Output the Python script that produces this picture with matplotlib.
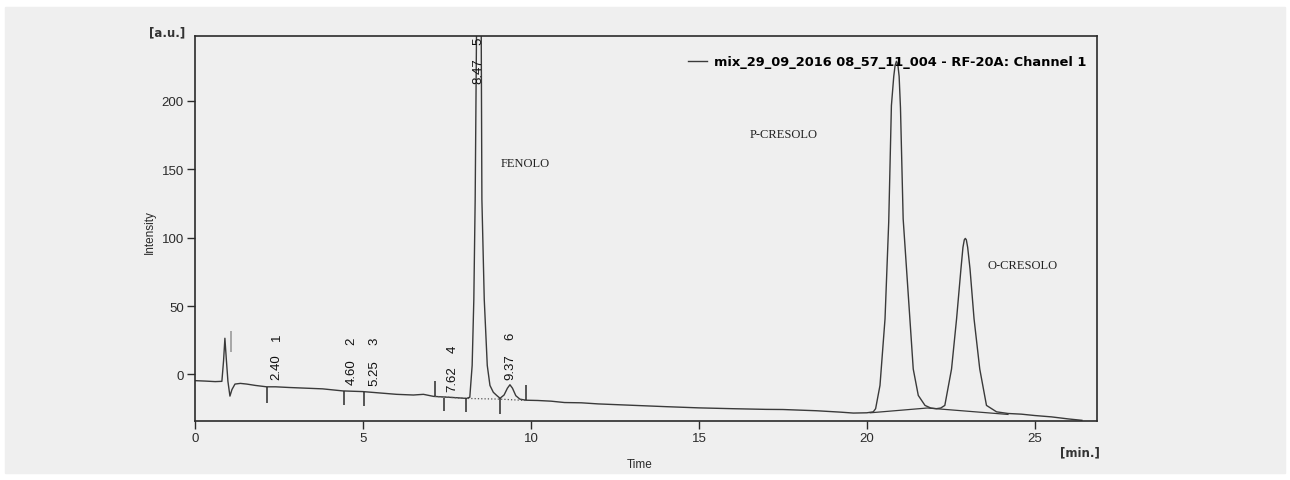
import matplotlib.pyplot as plt
from matplotlib.patches import Rectangle

# chromatogram trace (time in min, intensity in a.u.)
time = [0, 0.3, 0.6, 0.8, 0.85, 0.89, 0.93, 0.98, 1.04, 1.1, 1.19, 1.35, 1.54, 1.8,
        2.13, 2.4, 2.8, 3.3, 3.8, 4.4, 5.0, 5.5, 6.0, 6.5, 6.8, 7.1, 7.45, 7.8, 8.08,
        8.18, 8.25, 8.30, 8.34, 8.38, 8.45, 8.52, 8.54, 8.61, 8.70, 8.78, 8.88, 8.98,
        9.08, 9.2, 9.3, 9.375, 9.45, 9.55, 9.67, 9.85, 10.2, 10.6, 11.0, 11.5, 12, 13,
        14, 15, 16, 17, 17.5, 18.5, 19.2, 19.6, 20.0, 20.19, 20.26, 20.39, 20.54, 20.65,
        20.73, 20.80, 20.84, 20.88, 20.92, 20.96, 21.0, 21.08, 21.28, 21.38, 21.53, 21.73,
        21.9, 22.07, 22.2, 22.32, 22.52, 22.67, 22.80, 22.86, 22.90, 22.93, 22.96, 23.0,
        23.07, 23.19, 23.36, 23.56, 23.86, 24.2, 24.6, 25.0, 25.5, 26.0, 26.4]
intensity = [-4.5, -4.8, -5.2, -5, 10, 26.5, 12, -5, -15.8, -11, -7, -6.5, -7, -8,
             -9, -9, -9.5, -10, -10.5, -12, -12.5, -13.5, -14.5, -15, -14.5, -16, -16.5, -17, -17.5,
             -16.6, 6.6, 55, 128, 250, 430, 250, 128, 55, 6.6, -8, -13, -15.3,
             -17.4, -15, -10, -7.5, -10, -15.5, -18, -18.8, -19, -19.5, -20.5, -20.7, -21.5, -22.5,
             -23.5, -24.4, -25, -25.5, -25.6, -26.5, -27.5, -28.2, -28, -27.3, -25, -8, 40.7, 111.5,
             196.6, 218, 226, 229, 227, 218, 195, 113.8, 40.7, 4, -15.3, -22.6,
             -24.5, -25, -24.5, -22.6, 4, 40.7, 77.2, 93, 98.5, 99.5, 98.5, 93,
             77.2, 40.7, 4, -22.6, -27.3, -28.5, -29, -30, -31, -32.5, -33.5]

# integration marks: (time, from, to)
marks = [(2.13, -9, -21), (4.43, -12, -22), (5.04, -13, -23), (7.14, -16, -4.5),
         (7.42, -17, -27), (8.08, -17.5, -27.5), (9.08, -17.5, -29), (9.85, -19, -8)]

# peak labels: retention time, peak number, position of the text
peak_rt = ["2.40", "4.60", "5.25", "7.62", "8.47", "9.37"]
peak_no = ["1", "2", "3", "4", "5", "6"]
peak_x = [2.43, 4.66, 5.34, 7.66, 8.45, 9.40]
peak_y = [-3, -7, -7.5, -12, 213, -3]
no_y = [28, 25, 25, 19, 244.5, 28.5]

compounds = ["FENOLO", "P-CRESOLO", "O-CRESOLO"]
comp_x = [9.1, 16.5, 23.6]
comp_y = [155, 176, 80]

base_t = [20.1, 21.8, 24.2]
base_y = [-28, -24.5, -29.2]

fig = plt.figure(figsize=(12.9, 4.81), dpi=100, facecolor="white")
fig.patches.append(Rectangle((5 / 1290, 7 / 481), 1280 / 1290, 466 / 481,
                             transform=fig.transFigure, color="#efefef", zorder=-5))
ax = fig.add_axes([195 / 1290, 59 / 481, 902 / 1290, 385 / 481])
ax.set_facecolor("none")

ink = "#2b2b2b"
ax.plot(time, intensity, color="#3a3a3a", lw=1.0,
        label="mix_29_09_2016 08_57_11_004 - RF-20A: Channel 1")
ax.plot(base_t, base_y, color="#3a3a3a", lw=0.9)
ax.plot([7.14, 8.08, 9.08, 9.85], [-16, -17.5, -18, -19], color="#555555", lw=0.9, ls=":")
ax.vlines(1.07, 16.6, 32, color="#9a9a9a", lw=1.2)
for t, a, b in marks:
    ax.vlines(t, a, b, color=ink, lw=1.1)

for x, y, rt in zip(peak_x, peak_y, peak_rt):
    ax.text(x, y, rt, rotation=90, ha="center", va="bottom", fontsize=9.5,
            family="Liberation Sans", color="#111111")
for x, y, n in zip(peak_x, no_y, peak_no):
    ax.text(x, y, n, rotation=90, ha="center", va="center", fontsize=9.5,
            family="Liberation Sans", color="#111111")
for name, x, y in zip(compounds, comp_x, comp_y):
    ax.text(x, y, name, ha="left", va="center", fontsize=9,
            family="Liberation Serif", color="#222222")

ax.set_xlim(0, 26.85)
ax.set_ylim(-34, 247.5)
ax.set_xticks([0, 5, 10, 15, 20, 25])
ax.set_yticks([0, 50, 100, 150, 200])
ax.tick_params(colors=ink, labelsize=9.5, length=6, width=1, pad=2)
for lab in ax.get_xticklabels() + ax.get_yticklabels():
    lab.set_family("Liberation Sans")
for s in ax.spines.values():
    s.set_color(ink)
    s.set_linewidth(1.2)

ax.text(-0.011, 1.01, "[a.u.]", transform=ax.transAxes, ha="right", va="center",
        fontsize=8.5, fontweight="bold", color="#333333")
ax.text(0.981, -0.08, "[min.]", transform=ax.transAxes, ha="center", va="center",
        fontsize=8.5, fontweight="bold", color="#333333")
ax.text(-0.05, 0.494, "Intensity", transform=ax.transAxes, rotation=90, ha="center",
        va="center", fontsize=8.5, family="Liberation Sans", color=ink)
ax.text(0.493, -0.112, "Time", transform=ax.transAxes, ha="center", va="center",
        fontsize=8.5, family="Liberation Sans", color=ink)

ax.legend(loc="upper right", bbox_to_anchor=(0.988, 0.95), frameon=False,
          borderpad=0, borderaxespad=0, handlelength=1.5, handletextpad=0.5,
          prop={"size": 9.4, "weight": "bold"})

fig.savefig("out.png", dpi=100, facecolor=fig.get_facecolor())
